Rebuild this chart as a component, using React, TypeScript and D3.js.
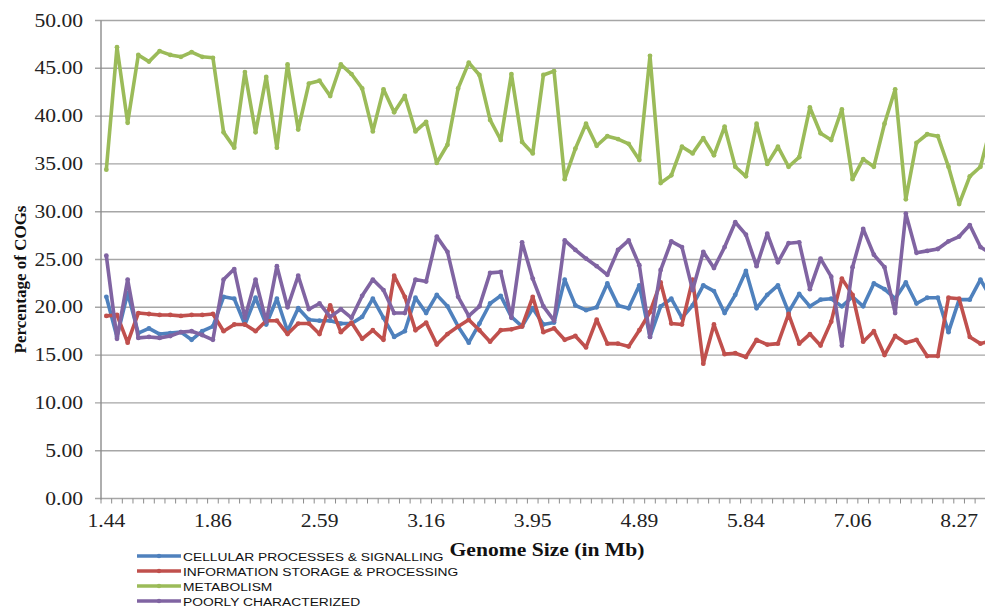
import * as React from 'react';
import * as d3 from 'd3';

// Percentage of COGs per genome (one category per genome, ordered by size)
const cellular = [
  21.1, 16.9, 21.5, 17.3, 17.8, 17.2, 17.3, 17.4, 16.6, 17.5,
  18.0, 21.1, 20.9, 18.2, 21.0, 18.2, 20.9, 17.5, 19.9, 18.7,
  18.6, 18.6, 18.3, 18.3, 19.0, 20.9, 18.9, 16.9, 17.5, 21.0,
  19.4, 21.3, 20.1, 18.0, 16.3, 18.3, 20.4, 21.2, 19.0, 18.0,
  19.9, 18.2, 18.4, 22.9, 20.2, 19.7, 20.0, 22.5, 20.2, 19.9,
  22.3, 16.9, 20.1, 20.9, 18.9, 20.2, 22.3, 21.7, 19.4, 21.3,
  23.8, 19.9, 21.3, 22.3, 19.5, 21.4, 20.1, 20.8, 20.9, 20.1,
  21.1, 20.1, 22.5, 21.9, 20.9, 22.6, 20.4, 21.0, 21.0, 17.4,
  20.8, 20.8, 22.9, 21.0,
];
const information = [
  19.1, 19.2, 16.3, 19.4, 19.3, 19.2, 19.2, 19.1, 19.2, 19.2,
  19.3, 17.5, 18.2, 18.2, 17.5, 18.6, 18.6, 17.2, 18.3, 18.3,
  17.2, 20.2, 17.4, 18.4, 16.7, 17.6, 16.6, 23.3, 21.1, 17.6,
  18.4, 16.1, 17.2, 18.0, 18.7, 17.6, 16.4, 17.6, 17.7, 18.0,
  21.1, 17.4, 17.8, 16.6, 17.0, 15.8, 18.7, 16.2, 16.2, 15.9,
  17.6, 19.5, 22.6, 18.3, 18.2, 22.9, 14.1, 18.2, 15.1, 15.2,
  14.8, 16.6, 16.1, 16.2, 19.3, 16.2, 17.2, 16.0, 18.5, 23.0,
  21.3, 16.4, 17.5, 15.0, 17.0, 16.3, 16.6, 14.9, 14.9, 21.0,
  20.9, 16.9, 16.2, 16.5,
];
const metabolism = [
  34.4, 47.2, 39.3, 46.4, 45.7, 46.8, 46.4, 46.2, 46.7, 46.2,
  46.1, 38.3, 36.7, 44.6, 38.3, 44.1, 36.7, 45.4, 38.6, 43.4,
  43.7, 42.1, 45.4, 44.4, 42.9, 38.4, 42.8, 40.4, 42.1, 38.4,
  39.4, 35.1, 37.0, 42.9, 45.6, 44.3, 39.6, 37.5, 44.4, 37.3,
  36.1, 44.3, 44.7, 33.4, 36.6, 39.2, 36.9, 37.9, 37.6, 37.1,
  35.4, 46.3, 33.0, 33.8, 36.8, 36.1, 37.7, 35.9, 38.9, 34.7,
  33.7, 39.2, 35.0, 36.8, 34.7, 35.7, 40.9, 38.2, 37.5, 40.7,
  33.4, 35.5, 34.7, 39.2, 42.8, 31.3, 37.2, 38.1, 37.9, 34.7,
  30.8, 33.7, 34.7, 39.0,
];
const poorly = [
  25.4, 16.7, 22.9, 16.8, 16.9, 16.8, 17.0, 17.4, 17.5, 17.1,
  16.6, 22.9, 24.0, 18.9, 22.9, 18.5, 24.3, 20.0, 23.3, 19.8,
  20.4, 19.0, 19.8, 18.9, 21.2, 22.9, 21.8, 19.4, 19.4, 22.9,
  22.7, 27.4, 25.8, 21.1, 19.1, 20.1, 23.6, 23.7, 18.9, 26.8,
  23.0, 20.1, 18.6, 27.0, 26.0, 25.1, 24.3, 23.4, 26.0, 27.0,
  24.4, 16.9, 23.9, 26.9, 26.3, 21.8, 25.8, 24.1, 26.3, 28.9,
  27.6, 24.3, 27.7, 24.7, 26.7, 26.8, 21.9, 25.1, 23.2, 16.0,
  24.2, 28.2, 25.5, 24.2, 19.4, 29.8, 25.7, 25.9, 26.1, 26.9,
  27.4, 28.6, 26.3, 25.6,
];

// genome sizes shown on the axis, one label every 10 genomes
const sizeLabels = ['1.44', '1.86', '2.59', '3.16', '3.95', '4.89', '5.84', '7.06', '8.27'];
const labelEvery = 10;
const yTicks = [0, 5, 10, 15, 20, 25, 30, 35, 40, 45, 50];

const seriesNames = [
  'CELLULAR PROCESSES & SIGNALLING',
  'INFORMATION STORAGE & PROCESSING',
  'METABOLISM',
  'POORLY CHARACTERIZED',
];
const seriesColors = ['#4F81BD', '#C0504D', '#9BBB59', '#8064A2'];
const seriesValues = [cellular, information, metabolism, poorly];

const W = 985;
const H = 611;
const left = 101;
const top = 20.5;
const bottom = 498.5;
const step = 10.66;
const stretch = 1.2; // the picture is a bit wider than tall
const grid = '#A6A6A6';
const serif = '"Liberation Serif", "Times New Roman", serif';
const sans = '"Liberation Sans", Arial, sans-serif';

export default function App() {
  const n = cellular.length;
  const x = d3.scaleBand<number>()
    .domain(d3.range(n))
    .range([left, left + n * step]);
  const cx = (i: number) => (x(i) as number) + x.bandwidth() / 2;
  const y = d3.scaleLinear().domain([0, 50]).range([bottom, top]);

  const line = d3.line<number>()
    .x((_, i) => cx(i))
    .y((d) => y(d));

  return (
    <svg width={W} height={H} style={{ position: 'absolute', left: 0, top: 0, background: '#fff' }}>
      {/* gridlines + y axis */}
      {yTicks.map((t) => (
        <g key={t}>
          <line x1={95} x2={W} y1={y(t)} y2={y(t)} stroke={grid} strokeWidth={1.4} />
          <text
            transform={`translate(83,${y(t) + 6}) scale(${stretch},1)`}
            textAnchor="end"
            fontFamily={serif}
            fontSize={18}
            fill="#222"
          >
            {t.toFixed(2)}
          </text>
        </g>
      ))}
      <line x1={left} x2={left} y1={top} y2={bottom + 1} stroke="#8C8C8C" strokeWidth={1.4} />

      {/* x axis ticks and labels */}
      {d3.range(n + 1).map((i) => (
        <line key={i} x1={left + i * step} x2={left + i * step} y1={bottom} y2={bottom + 5} stroke="#8C8C8C" strokeWidth={1} />
      ))}
      {sizeLabels.map((lab, k) => (
        <text
          key={lab}
          transform={`translate(${cx(k * labelEvery)},527) scale(${stretch},1)`}
          textAnchor="middle"
          fontFamily={serif}
          fontSize={18}
          fill="#222"
        >
          {lab}
        </text>
      ))}

      {/* series */}
      {seriesValues.map((vals, s) => (
        <g key={s}>
          <path d={line(vals) || ''} fill="none" stroke={seriesColors[s]} strokeWidth={3.6} strokeLinejoin="round" />
          {vals.map((v, i) => (
            <circle key={i} cx={cx(i)} cy={y(v)} r={2.4} fill={seriesColors[s]} />
          ))}
        </g>
      ))}

      {/* axis titles */}
      <text
        transform={`translate(547,556) scale(${stretch},1)`}
        textAnchor="middle"
        fontFamily={serif}
        fontWeight="bold"
        fontSize={18}
        fill="#111"
      >
        Genome Size (in Mb)
      </text>
      <text
        transform={`translate(26,${(top + bottom) / 2 + 20}) rotate(-90)`}
        textAnchor="middle"
        fontFamily={serif}
        fontWeight="bold"
        fontSize={17}
        fill="#111"
      >
        Percentage of COGs
      </text>

      {/* legend */}
      {seriesNames.map((name, s) => {
        const ly = 556 + s * 15;
        return (
          <g key={name}>
            <line x1={137} x2={181} y1={ly} y2={ly} stroke={seriesColors[s]} strokeWidth={3.6} />
            <circle cx={159} cy={ly} r={2.2} fill={seriesColors[s]} />
            <text
              transform={`translate(183,${ly + 4.5}) scale(${stretch},1)`}
              fontFamily={sans}
              fontSize={11.5}
              fill="#111"
            >
              {name}
            </text>
          </g>
        );
      })}
    </svg>
  );
}
